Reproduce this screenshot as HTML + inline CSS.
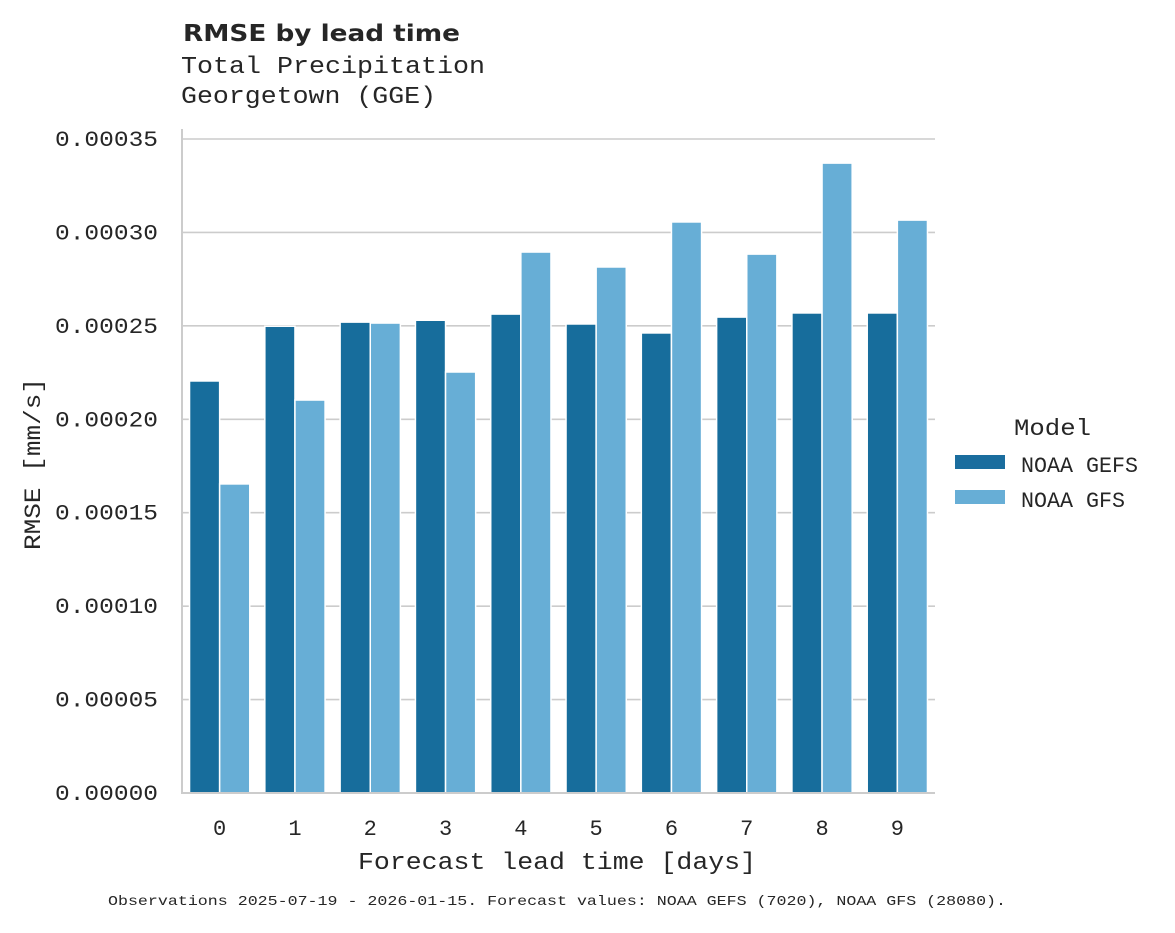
<!DOCTYPE html>
<html><head><meta charset="utf-8">
<style>
body{margin:0;background:#fff;}
svg text{font-family:"Liberation Mono","DejaVu Sans Mono",monospace;fill:#262626;}
</style></head>
<body>
<svg width="1175" height="928" viewBox="0 0 1175 928" xmlns="http://www.w3.org/2000/svg">
<text x="183" y="41" textLength="277" lengthAdjust="spacingAndGlyphs" style="font-family:'DejaVu Sans','Liberation Sans',sans-serif;font-weight:bold;font-size:23px">RMSE by lead time</text>
<text x="181" y="73" font-size="24" textLength="304" lengthAdjust="spacingAndGlyphs">Total Precipitation</text>
<text x="181" y="103" font-size="24" textLength="255" lengthAdjust="spacingAndGlyphs">Georgetown (GGE)</text>
<g id="grid"></g>
<g id="bars"></g>
<g id="axes"></g>
<text x="0" y="0" transform="translate(40,464) rotate(-90)" text-anchor="middle" font-size="23" textLength="172" lengthAdjust="spacingAndGlyphs">RMSE [mm/s]</text>
<text x="557" y="869" text-anchor="middle" font-size="24" textLength="398" lengthAdjust="spacingAndGlyphs">Forecast lead time [days]</text>
<text x="557" y="905" text-anchor="middle" font-size="14" textLength="898" lengthAdjust="spacingAndGlyphs">Observations 2025-07-19 - 2026-01-15. Forecast values: NOAA GEFS (7020), NOAA GFS (28080).</text>
<g>
<text x="1014" y="435" font-size="23" textLength="77" lengthAdjust="spacingAndGlyphs">Model</text>
<rect x="955" y="455" width="50" height="14" fill="#1a6d9e"/>
<text x="1021" y="472" font-size="22" textLength="117" lengthAdjust="spacingAndGlyphs">NOAA GEFS</text>
<rect x="955" y="490" width="50" height="14" fill="#67aed6"/>
<text x="1021" y="507" font-size="22" textLength="104" lengthAdjust="spacingAndGlyphs">NOAA GFS</text>
</g>
</svg>
<script>
const categories=["0","1","2","3","4","5","6","7","8","9"];
const gefsValues=[0.0002205,0.0002498,0.000252,0.000253,0.0002563,0.000251,0.0002462,0.0002547,0.0002569,0.0002569];
const gfsValues=[0.0001654,0.0002103,0.0002515,0.0002253,0.0002895,0.0002815,0.0003056,0.0002884,0.0003371,0.0003066];
const yTicks=[0,0.00005,0.0001,0.00015,0.0002,0.00025,0.0003,0.00035];
const yTickLabels=["0.00000","0.00005","0.00010","0.00015","0.00020","0.00025","0.00030","0.00035"];
const NS="http://www.w3.org/2000/svg";
const X0=182,X1=935,Y0=793,Y1=139,YMAX=0.00035;
const y=v=>Y0-(v/YMAX)*(Y0-Y1);
const bw=(X1-X0)/categories.length;
const xc=i=>X0+bw*(i+0.5);
function mk(tag,attrs,parent){const e=document.createElementNS(NS,tag);for(const k in attrs)e.setAttribute(k,attrs[k]);parent.appendChild(e);return e;}
const grid=document.getElementById('grid'),bars=document.getElementById('bars'),axes=document.getElementById('axes');
yTicks.forEach((t,i)=>{
  const l=mk('line',{x1:X0,x2:X1,y1:y(t),y2:y(t),stroke:'#cccccc','stroke-width':1.6},grid);
  
  
  const tx=mk('text',{x:158,y:y(t)+7,'text-anchor':'end','font-size':22,textLength:103,lengthAdjust:'spacingAndGlyphs'},axes);
  tx.textContent=yTickLabels[i];
  
  
});
categories.forEach((c,i)=>{
  const w=bw*0.4;
  const r1=mk('rect',{x:xc(i)-w,y:y(gefsValues[i]),width:w,height:Y0-y(gefsValues[i]),fill:'#176d9c',stroke:'#fff','stroke-width':1.5},bars);
  
  
  const r2=mk('rect',{x:xc(i),y:y(gfsValues[i]),width:w,height:Y0-y(gfsValues[i]),fill:'#67aed6',stroke:'#fff','stroke-width':1.5},bars);
  
  
  const tx=mk('text',{x:xc(i),y:835,'text-anchor':'middle','font-size':22},axes);
  tx.textContent=c;
  
  
});
const ls=mk('line',{x1:X0,x2:X0,y1:129,y2:Y0+1,stroke:'#cccccc','stroke-width':2},axes);


const bs=mk('line',{x1:X0-1,x2:X1,y1:Y0,y2:Y0,stroke:'#cccccc','stroke-width':2},axes);


</script>
</body></html>
